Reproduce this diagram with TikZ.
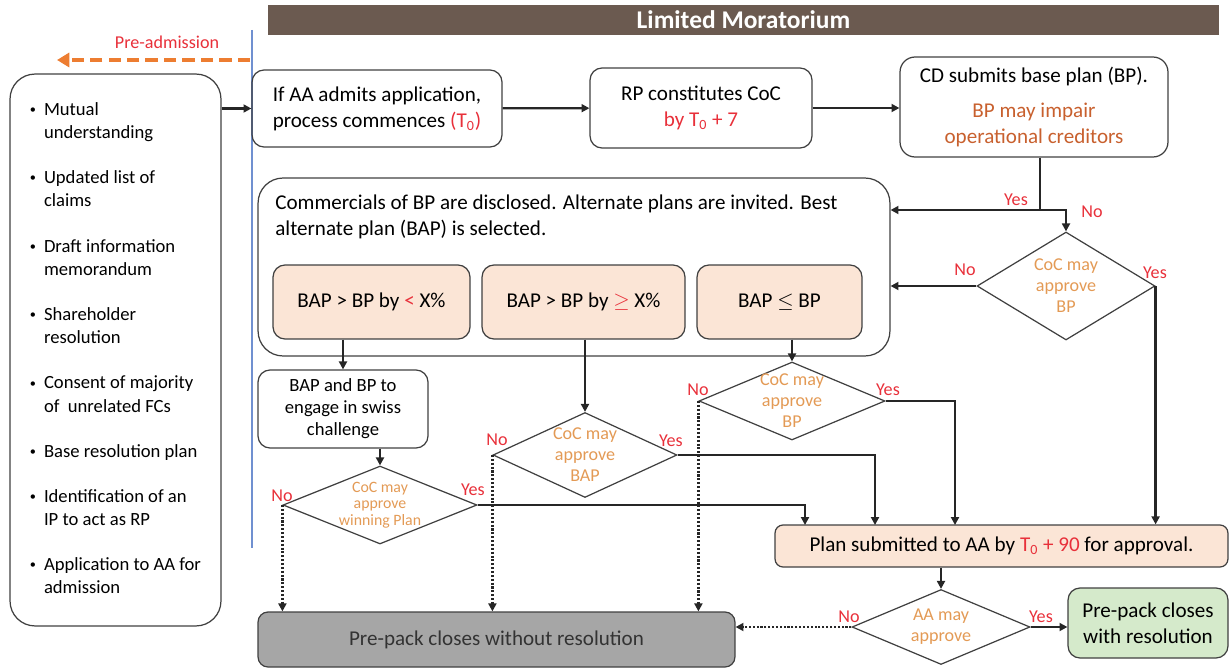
\documentclass[tikz,border=0pt]{standalone}
\usepackage{fontspec}
\setmainfont{Carlito}
\usepackage{tikz}
\usetikzlibrary{shapes.geometric,arrows.meta}

\definecolor{barbrown}{HTML}{6B5A50}
\definecolor{peach}{HTML}{FBE5D6}
\definecolor{lgreen}{HTML}{D5EACB}
\definecolor{cgray}{HTML}{A6A6A6}
\definecolor{lblred}{HTML}{E8303A}
\definecolor{bporange}{HTML}{C8602E}
\definecolor{diaorange}{HTML}{E39A55}
\definecolor{preorange}{HTML}{ED7D31}
\definecolor{sepblue}{HTML}{7090D0}

\newcommand{\dotitem}{\raisebox{0.2ex}{\scriptsize\textbullet}}

\begin{document}
\begin{tikzpicture}[x=0.02cm,y=-0.02cm,
  box/.style={draw=black!75,line width=0.7pt,rounded corners=0.24cm,align=center,
    inner sep=0pt,font=\fontsize{12}{14.7}\selectfont},
  subbox/.style={box,fill=peach},
  dia/.style={draw=black!75,line width=0.7pt,diamond,inner sep=0pt},
  diatxt/.style={align=center,text=diaorange,inner sep=0pt,font=\fontsize{10.3}{12}\selectfont},
  yn/.style={text=lblred,inner sep=0pt,font=\fontsize{10.3}{12}\selectfont},
  arr/.style={line width=1.3pt,draw=black!85,-{Triangle[length=4.5pt,width=4.5pt]}},
  noarr/.style={arr,dash pattern=on 1.2pt off 1pt}]
  \useasboundingbox (0,0) rectangle (1230,669);

  \node[fill=barbrown,minimum width=19.02cm,minimum height=0.6cm,inner sep=0pt,
    text=white,font=\fontsize{14.5}{16}\selectfont\bfseries] (title) at (743.5,20) {Limited Moratorium};
  \coordinate (septop) at (252,30);
  \coordinate (sepbot) at (252,548);
  \draw[sepblue,line width=0.8pt] (septop) -- (sepbot);
  \coordinate (prestart) at (250,60);
  \coordinate (preend) at (57,60);
  \draw[preorange,line width=2pt,dash pattern=on 7pt off 3.5pt,-{Triangle[length=7pt,width=8pt]}] (prestart) -- (preend);
  \node[yn] (prelbl) at (167,42) {Pre-admission};

  \node[box,rounded corners=0.5cm,minimum width=4.22cm,minimum height=11.04cm,
    font=\fontsize{10.6}{13.2}\selectfont] (pre) at (115.5,350) {%
    \begin{tabular}{@{}l@{\hspace{4.5pt}}l@{}}
      \dotitem & Mutual\\ & understanding\\[12.5pt]
      \dotitem & Updated list of\\ & claims\\[12.5pt]
      \dotitem & Draft information\\ & memorandum\\[12.5pt]
      \dotitem & Shareholder\\ & resolution\\[12.5pt]
      \dotitem & Consent of majority\\ & of~ unrelated FCs\\[12.5pt]
      \dotitem & Base resolution plan\\[12.5pt]
      \dotitem & Identification of an\\ & IP to act as RP\\[12.5pt]
      \dotitem & Application to AA for\\ & admission
    \end{tabular}};

  \node[box,minimum width=5cm,minimum height=1.54cm] (admit) at (377,108.5)
    {If AA admits application,\\process commences \textcolor{lblred}{(T\textsubscript{0})}};
  \node[box,minimum width=4.44cm,minimum height=1.6cm] (coc) at (701,108)
    {RP constitutes CoC\\\textcolor{lblred}{by T\textsubscript{0} + 7}};
  \node[box,rounded corners=0.3cm,minimum width=5.36cm,minimum height=2cm] (base) at (1034,107)
    {CD submits base plan (BP).\\[5pt]\textcolor{bporange}{BP may impair}\\\textcolor{bporange}{operational creditors}};

  \node[box,rounded corners=0.5cm,minimum width=12.64cm,minimum height=3.56cm] (alt) at (574,267) {};
  \node[anchor=north west,align=left,inner sep=0pt,font=\fontsize{12}{14.5}\selectfont] (alttxt) at (275,195)
    {Commercials of BP are disclosed. Alternate plans are invited. Best\\alternate plan (BAP) is selected.};
  \node[subbox,minimum width=3.94cm,minimum height=1.48cm] (lessx) at (371.5,302)
    {BAP > BP by \textcolor{lblred}{<} X\%};
  \node[subbox,minimum width=4.06cm,minimum height=1.48cm] (morex) at (583.5,302)
    {BAP > BP by \textcolor{lblred}{$\geq$} X\%};
  \node[subbox,minimum width=3.3cm,minimum height=1.48cm] (lower) at (779.5,302)
    {BAP $\leq$ BP};

  \node[box,minimum width=3.4cm,minimum height=1.56cm,font=\fontsize{10.6}{12.5}\selectfont] (swiss) at (343,409)
    {BAP and BP to\\engage in swiss\\challenge};

  \node[dia,minimum width=3.56cm,minimum height=2.16cm] (dbp) at (1066,286) {};
  \node[diatxt] (dbptxt) at (dbp) {CoC may\\approve\\BP};
  \node[dia,minimum width=3.88cm,minimum height=1.56cm] (dwin) at (380,505) {};
  \node[diatxt,font=\fontsize{9}{9.3}\selectfont] (dwintxt) at (dwin) {CoC may\\approve\\winning Plan};
  \node[dia,minimum width=3.68cm,minimum height=1.7cm] (dbap) at (585,455) {};
  \node[diatxt] (dbaptxt) at (dbap) {CoC may\\approve\\BAP};
  \node[dia,minimum width=3.72cm,minimum height=1.56cm] (dlow) at (792,401) {};
  \node[diatxt] (dlowtxt) at (dlow) {CoC may\\approve\\BP};

  \node[subbox,rounded corners=0.16cm,minimum width=9.06cm,minimum height=0.84cm] (plan) at (1001.5,546)
    {Plan submitted to AA by \textcolor{lblred}{T\textsubscript{0} + 90} for approval.};
  \node[dia,minimum width=3.56cm,minimum height=1.5cm] (daa) at (941,627) {};
  \node[diatxt] (daatxt) at (daa) {AA may\\approve};
  \node[box,fill=lgreen,minimum width=3.2cm,minimum height=1.4cm] (withres) at (1148,623)
    {Pre-pack closes\\with resolution};
  \node[box,fill=cgray,text=black!80,rounded corners=0.2cm,minimum width=9.54cm,minimum height=1.1cm] (nores) at (496.5,639.5)
    {Pre-pack closes without resolution};

  \coordinate (split) at (1040,210);
  \coordinate (inwin) at (805,525);
  \coordinate (inbap) at (875,525);
  \coordinate (inlow) at (955,525);

  \draw[arr] (admit.west -| pre.east) -- (admit.west);
  \draw[arr] (admit) -- (coc);
  \draw[arr] (coc) -- (coc -| base.west);
  \draw[line width=1.3pt,black!85] (base.south -| split) -- (split);
  \draw[arr] (split) -- (alt.east |- split);
  \draw[arr] (split) -| (dbp.north);
  \draw[arr] (dbp.west) -- (alt.east |- dbp.west);
  \draw[arr] (dbp.east) -- (dbp.east |- plan.north);
  \draw[arr] (swiss.north |- lessx.south) -- (swiss.north);
  \draw[arr] (dwin.north |- swiss.south) -- (dwin.north);
  \draw[arr] (dbap.north |- morex.south) -- (dbap.north);
  \draw[arr] (dlow.north |- lower.south) -- (dlow.north);
  \draw[arr] (dwin.east) -| (inwin);
  \draw[arr] (dbap.east) -| (inbap);
  \draw[arr] (dlow.east) -| (inlow);
  \draw[noarr] (dwin.west) -- (dwin.west |- nores.north);
  \draw[noarr] (dbap.west) -- (dbap.west |- nores.north);
  \draw[noarr] (dlow.west) -- (dlow.west |- nores.north);
  \draw[arr] (daa.north |- plan.south) -- (daa.north);
  \draw[noarr] (daa.west) -- (nores.east |- daa.west);
  \draw[arr] (daa.east) -- (withres.west |- daa.east);

  \node[yn] (yessplit) at (1016,200) {Yes};
  \node[yn] (nosplit) at (1092,212) {No};
  \node[yn] (nobp) at (965,270) {No};
  \node[yn] (yesbp) at (1155,273) {Yes};
  \node[yn] (nolow) at (698,390) {No};
  \node[yn] (yeslow) at (888,390) {Yes};
  \node[yn] (nobap) at (497,440) {No};
  \node[yn] (yesbap) at (671,441) {Yes};
  \node[yn] (nowin) at (282,496) {No};
  \node[yn] (yeswin) at (473,490) {Yes};
  \node[yn] (noaa) at (849,617) {No};
  \node[yn] (yesaa) at (1041,617) {Yes};
\end{tikzpicture}
\end{document}
